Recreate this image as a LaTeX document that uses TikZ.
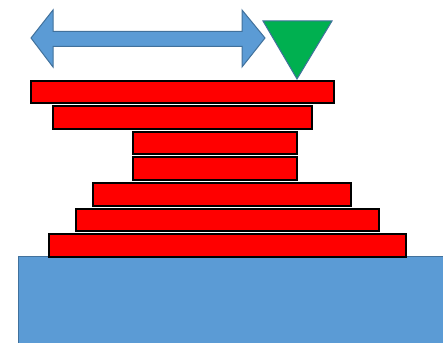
\documentclass[tikz,border=0pt]{standalone}
\definecolor{baseblue}{HTML}{5B9BD5}
\definecolor{edgeblue}{HTML}{41719C}
\definecolor{grn}{HTML}{00B050}
\definecolor{rd}{HTML}{FF0000}
\begin{document}
\begin{tikzpicture}[x=1pt,y=-1pt,
  bar/.style={fill=rd,draw=black,line width=1.6pt},
  bluesh/.style={fill=baseblue,draw=edgeblue,line width=1pt,line join=miter}]
\useasboundingbox (0,0) rectangle (443,342);
\clip (0,0) rectangle (443,342);
\fill[white] (0,0) rectangle (443,342);
% base
\draw[bluesh] (18,256) rectangle (450,350);
% arrow
\draw[bluesh] (31,38) -- (53,10) -- (53,31.5) -- (242,31.5) -- (242,10) -- (265,38) -- (242,67) -- (242,46.5) -- (53,46.5) -- (53,67) -- cycle;
% triangle
\draw[fill=grn,draw=edgeblue,line width=1pt,line join=miter] (263,21) -- (332,21) -- (297,79) -- cycle;
% bars
\draw[bar] (31,81) rectangle (334,103);
\draw[bar] (53,106) rectangle (312,129);
\draw[bar] (133,132) rectangle (297,154);
\draw[bar] (133,157) rectangle (297,180);
\draw[bar] (93,183) rectangle (351,206);
\draw[bar] (76,209) rectangle (379,231);
\draw[bar] (49,234) rectangle (406,257);
\end{tikzpicture}
\end{document}
